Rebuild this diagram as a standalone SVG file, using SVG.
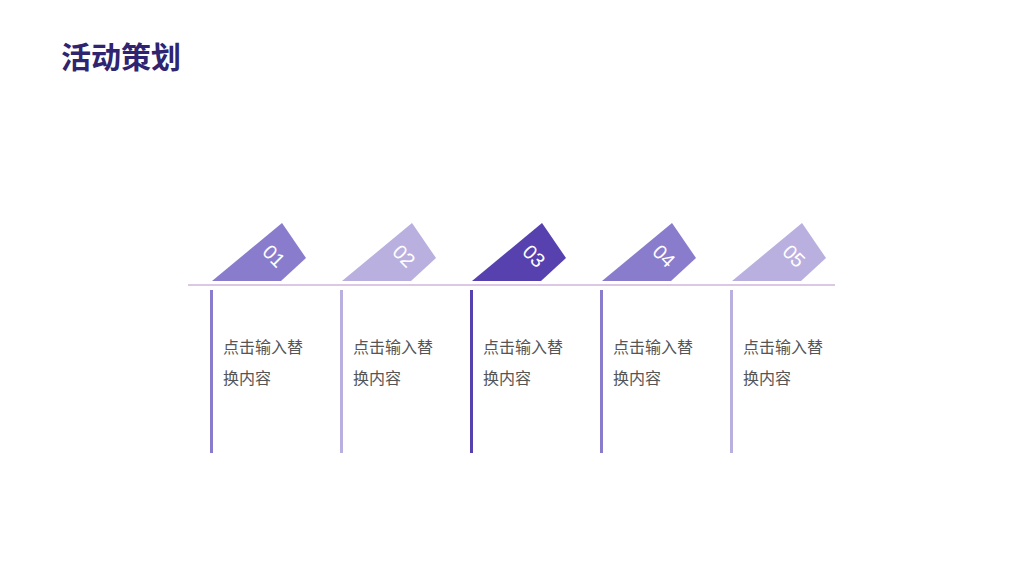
<svg xmlns="http://www.w3.org/2000/svg" width="1024" height="576" viewBox="0 0 1024 576">
<style>
.t{font-family:"Noto Sans CJK SC",sans-serif;font-size:16px;fill:#555}
.n{font-family:"Liberation Sans",sans-serif;font-size:20px;fill:#fff}
.a{fill:#8a7ccc}.b{fill:#b9b0e0}.c{fill:#5641ae}
</style>
<rect width="1024" height="576" fill="#fff"/>
<text x="61" y="68" font-family="'Noto Sans CJK SC',sans-serif" font-size="30" font-weight="bold" fill="#2e2470">活动策划</text>
<g id="connectors"><line x1="188" y1="285" x2="835" y2="285" stroke="#dcc8e4" stroke-width="2"/></g>
<g id="n1" transform="translate(0,0)"><path class="a" d="M212 281L282 223L306 258L281 281Z"/><rect class="a" x="210" y="290" width="3" height="163"/><text class="n" transform="translate(274,256) rotate(45)" text-anchor="middle" dy="7">01</text><text class="t" x="223" y="353">点击输入替</text><text class="t" x="223" y="384">换内容</text></g>
<g id="n2" transform="translate(130,0)"><path class="b" d="M212 281L282 223L306 258L281 281Z"/><rect class="b" x="210" y="290" width="3" height="163"/><text class="n" transform="translate(274,256) rotate(45)" text-anchor="middle" dy="7">02</text><text class="t" x="223" y="353">点击输入替</text><text class="t" x="223" y="384">换内容</text></g>
<g id="n3" transform="translate(260,0)"><path class="c" d="M212 281L282 223L306 258L281 281Z"/><rect class="c" x="210" y="290" width="3" height="163"/><text class="n" transform="translate(274,256) rotate(45)" text-anchor="middle" dy="7">03</text><text class="t" x="223" y="353">点击输入替</text><text class="t" x="223" y="384">换内容</text></g>
<g id="n4" transform="translate(390,0)"><path class="a" d="M212 281L282 223L306 258L281 281Z"/><rect class="a" x="210" y="290" width="3" height="163"/><text class="n" transform="translate(274,256) rotate(45)" text-anchor="middle" dy="7">04</text><text class="t" x="223" y="353">点击输入替</text><text class="t" x="223" y="384">换内容</text></g>
<g id="n5" transform="translate(520,0)"><path class="b" d="M212 281L282 223L306 258L281 281Z"/><rect class="b" x="210" y="290" width="3" height="163"/><text class="n" transform="translate(274,256) rotate(45)" text-anchor="middle" dy="7">05</text><text class="t" x="223" y="353">点击输入替</text><text class="t" x="223" y="384">换内容</text></g>
</svg>
